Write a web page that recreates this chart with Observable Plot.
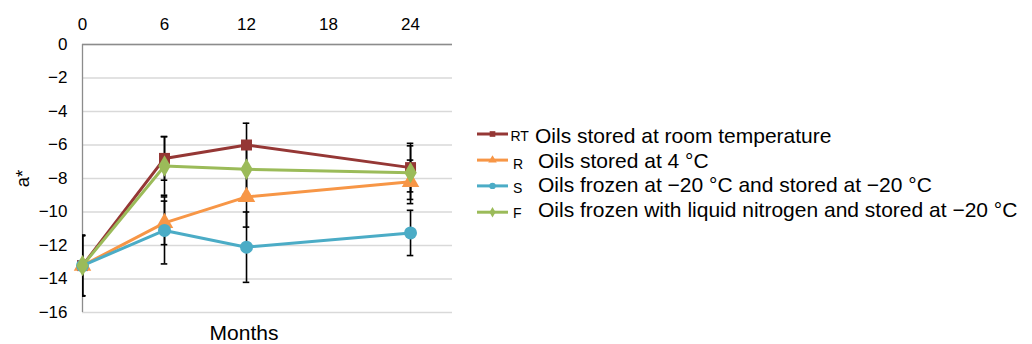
<!DOCTYPE html>
<html><head><meta charset="utf-8">
<script src="https://cdn.jsdelivr.net/npm/d3@7"></script>
<script src="https://cdn.jsdelivr.net/npm/@observablehq/plot@0.6"></script>
<style>
body{margin:0;background:#fff;font-family:"Liberation Sans",Arial,sans-serif;}
#wrap{position:relative;width:1032px;height:344px;overflow:hidden;}
#legend{position:absolute;left:0;top:0;}
</style></head><body><div id="wrap"></div>
<script>
const months = [0, 6, 12, 24];
const xTicks = [0, 6, 12, 18, 24];
const yTicks = [0, -2, -4, -6, -8, -10, -12, -14, -16];
const seriesKeys = ["RT", "R", "S", "F"];
const seriesLabels = [
  "Oils stored at room temperature",
  "Oils stored at 4 °C",
  "Oils frozen at \u221220 °C and stored at \u221220 °C",
  "Oils frozen with liquid nitrogen and stored at \u221220 °C"
];
const seriesColors = ["#953735", "#F79646", "#4BACC6", "#9BBB59"];
const seriesSymbols = ["square", "triangle", "circle", "diamond"];
const rtValues = [-13.2, -6.8, -6.0, -7.35];
const rtErrors = [1.8, 1.3, 1.3, 1.45];
const rValues = [-13.2, -10.65, -9.1, -8.2];
const rErrors = [1.8, 1.3, 1.8, 1.3];
const sValues = [-13.2, -11.1, -12.1, -11.25];
const sErrors = [1.8, 2.0, 2.1, 1.35];
const fValues = [-13.2, -7.25, -7.45, -7.65];
const fErrors = [1.8, 1.75, 1.5, 1.6];

const allValues = [rtValues, rValues, sValues, fValues];
const allErrors = [rtErrors, rErrors, sErrors, fErrors];
const data = [];
seriesKeys.forEach((k, i) => months.forEach((m, j) => data.push({
  key: k, month: m, value: allValues[i][j], err: allErrors[i][j]
})));

const seriesMarks = seriesKeys.flatMap((k, i) => {
  const d = data.filter(r => r.key === k);
  return [
    Plot.line(d, {x: "month", y: "value", stroke: seriesColors[i], strokeWidth: 3}),
    Plot.dot(d, {x: "month", y: "value", fill: seriesColors[i], stroke: "none",
      symbol: seriesSymbols[i], r: i === 0 ? 6.2 : 6.5})
  ];
});

const fmt = v => v < 0 ? "\u2212" + Math.abs(v) : String(v);
const font = "'Liberation Sans', Arial, sans-serif";
const plot = Plot.plot({
  width: 1032, height: 344,
  marginLeft: 82, marginTop: 44, marginBottom: 32, marginRight: 580,
  style: {fontFamily: font, fontSize: "17px", color: "#000", background: "#fff"},
  x: {domain: [0, 27.07], axis: null},
  y: {domain: [-16, 0], axis: null},
  marks: [
    Plot.gridY(yTicks, {stroke: "#d9d9d9", strokeOpacity: 1, strokeWidth: 1.3}),
    Plot.ruleY([0], {stroke: "#8c8c8c", strokeWidth: 1.3}),
    Plot.ruleX([0], {stroke: "#8c8c8c", strokeWidth: 1.3}),
    Plot.text(xTicks, {x: d => d, text: d => fmt(d), frameAnchor: "top", lineAnchor: "middle", dy: -20, fontSize: 17, fill: "#000"}),
    Plot.text(yTicks, {y: d => d, text: d => fmt(d), frameAnchor: "left", textAnchor: "end", lineAnchor: "middle", dx: -15, fontSize: 17, fill: "#000"}),
    Plot.ruleX(data, {x: "month", y1: d => d.value - d.err, y2: d => d.value + d.err, stroke: "#000", strokeWidth: 1.6, clip: true}),
    Plot.ruleY(data, {y: d => d.value + d.err, x1: d => d.month - 0.24, x2: d => d.month + 0.24, stroke: "#000", strokeWidth: 1.6, clip: true}),
    Plot.ruleY(data, {y: d => d.value - d.err, x1: d => d.month - 0.24, x2: d => d.month + 0.24, stroke: "#000", strokeWidth: 1.6, clip: true}),
    ...seriesMarks,
    Plot.text(["Months"], {frameAnchor: "bottom", lineAnchor: "middle", dy: 21, dx: -23.5, fontSize: 21, fill: "#000"}),
    Plot.text(["a*"], {frameAnchor: "left", textAnchor: "middle", lineAnchor: "middle", dx: -59, rotate: -90, fontSize: 18.5, fill: "#000"})
  ]
});
const wrap = document.getElementById("wrap");
wrap.appendChild(plot);

// legend
const lg = d3.select(wrap).append("svg").attr("id", "legend")
  .attr("width", 1032).attr("height", 344)
  .style("font-family", font);
const baseY = [143, 167.6, 192.4, 217.2];
const lineOff = [-9, -7.5, -6.5, -5];
const symMap = {square: d3.symbolSquare, triangle: d3.symbolTriangle, circle: d3.symbolCircle, diamond: d3.symbolDiamond};
seriesKeys.forEach((k, i) => {
  const b = baseY[i];
  const ly = b + lineOff[i];
  const g = lg.append("g");
  g.append("line").attr("x1", 477).attr("x2", 508).attr("y1", ly).attr("y2", ly)
    .attr("stroke", seriesColors[i]).attr("stroke-width", 3);
  g.append("path").attr("d", d3.symbol(symMap[seriesSymbols[i]], 32)())
    .attr("transform", `translate(492.5,${ly})`).attr("fill", seriesColors[i]);
  g.append("text").attr("x", i === 0 ? 510.5 : 513).attr("y", i === 0 ? b - 2 : b + 1).attr("font-size", 14).text(k);
  g.append("text").attr("x", i === 0 ? 535 : 538).attr("y", b).attr("font-size", 21).text(seriesLabels[i]);
});
</script></body></html>
